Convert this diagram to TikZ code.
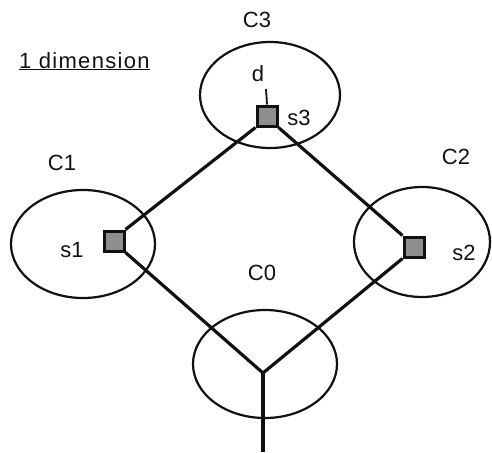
\documentclass[tikz,border=0pt]{standalone}
\usepackage{fontspec}
\setmainfont{Liberation Sans}
\usetikzlibrary{shapes.geometric}
\definecolor{dimInk}{HTML}{111111}
\definecolor{dimShade}{HTML}{8E8E8E}
\tikzset{
  dim cell/.style={ellipse, draw=dimInk, line width=2.2pt, inner sep=0pt},
  dim site/.style={rectangle, draw=dimInk, fill=dimShade, line width=3pt, minimum size=20pt, inner sep=0pt},
  dim link/.style={draw=dimInk, line width=3.2pt},
  dim label/.style={font=\fontsize{22}{25}\selectfont, text=dimInk, inner sep=0pt},
}
\begin{document}
\begin{tikzpicture}[x=1pt, y=-1pt]
  \useasboundingbox (0,0) rectangle (492,452);

  % Cells
  \node[dim cell, minimum width=140pt, minimum height=106pt] (c3) at (270,95) {};
  \node[dim cell, minimum width=144pt, minimum height=108pt] (c1) at (83,244) {};
  \node[dim cell, minimum width=136pt, minimum height=110pt] (c2) at (422,242) {};
  \node[dim cell, minimum width=144pt, minimum height=108pt] (c0) at (265,364) {};

  % Sites
  \node[dim site] (s3) at (267,116) {};
  \node[dim site] (s1) at (114,241) {};
  \node[dim site] (s2) at (414,247) {};
  \coordinate (j) at (263,373);
  \coordinate (root) at (263,452);
  \coordinate (dtop) at (266,89);

  % Links
  \draw[dim link] (s3.south west) -- (s1.north east);
  \draw[dim link] (s3.south east) -- (s2.north west);
  \draw[dim link] (s1.south east) -- (j);
  \draw[dim link] (s2.south west) -- (j);
  \draw[dim link] (j) -- (root);
  \draw[draw=dimInk, line width=1.8pt] (s3.north) -- (dtop);

  % Labels
  \node[dim label] (l3) at (257,20) {C3};
  \node[dim label] (l1) at (62,163) {C1};
  \node[dim label] (l2) at (456,157) {C2};
  \node[dim label] (l0) at (262,273) {C0};
  \node[dim label] (ls1) at (72,250) {s1};
  \node[dim label] (ls2) at (464,253) {s2};
  \node[dim label] (ls3) at (299,118) {s3};
  \node[dim label] (ld) at (258,74) {d};
  \node[dim label, anchor=base west] (title) at (19,68)
    {\addfontfeatures{LetterSpace=6}\underline{1 dimension}};
\end{tikzpicture}
\end{document}
